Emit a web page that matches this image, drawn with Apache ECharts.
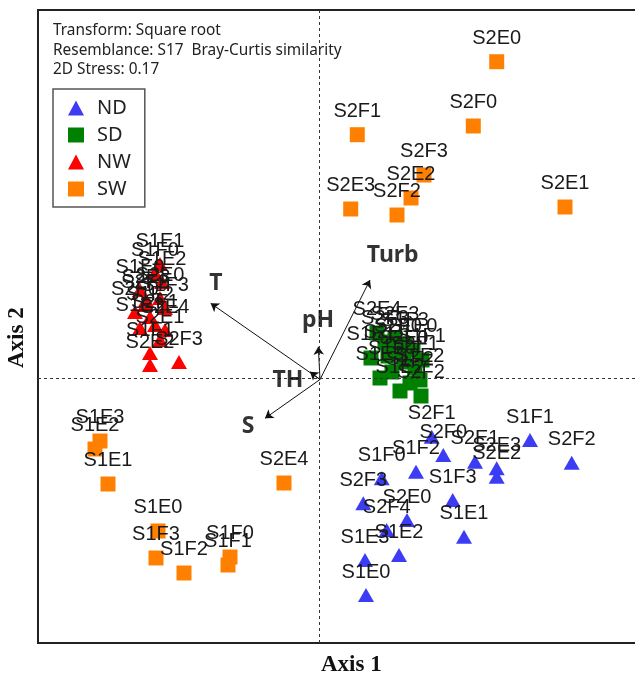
<!DOCTYPE html>
<html>
<head>
<meta charset="utf-8">
<script src="https://cdn.jsdelivr.net/npm/echarts@6/dist/echarts.min.js"></script>
<style>html,body{margin:0;padding:0;background:#fff}#c{width:635px;height:680px}</style>
</head>
<body>
<div id="c"></div>
<script>
// ---- data (NMDS coordinates, arbitrary units) ----
const groups = ['ND', 'SD', 'NW', 'SW'];

const ndNames = ['S2F1','S2F0','S2E1','S2E3','S2E2','S1F1','S2F2','S1F0','S1F2','S1F3','S2F3','S2E0','S2F4','S1E1','S1E2','S1E3','S1E0'];
const ndX = [1.127, 1.243, 1.56, 1.777, 1.777, 2.11, 2.527, 0.627, 0.97, 1.337, 0.443, 0.88, 0.677, 1.45, 0.80, 0.46, 0.47];
const ndY = [-0.582, -0.765, -0.832, -0.898, -0.982, -0.615, -0.842, -0.998, -0.932, -1.215, -1.248, -1.415, -1.515, -1.582, -1.765, -1.815, -2.165];

const sdNames = ['S2E4','S2E3','S1F3','S2F3','S1E0','S2F0','S1E1','S2E1','S1F1','S2E0','S1E3','S1F2','S2E2','S1E2','S2F2','S1F0','S2F1'];
const sdX = [0.58, 0.76, 0.86, 0.66, 0.94, 0.79, 0.52, 0.69, 1.03, 0.85, 0.61, 0.91, 1.01, 0.81, 1.02, 0.73, 0.96];
const sdY = [0.455, 0.405, 0.345, 0.365, 0.285, 0.285, 0.205, 0.225, 0.185, 0.165, 0.005, -0.045, -0.015, -0.125, -0.175, 0.065, 0.105];

const nwNames = ['S1E1','S1F0','S1E2','S1E0','S2E0','S2E3','S2F2','S1F3','S2F0','S1F2','S2F1','S1E3','S2E4','S2E1','S1F1','S2E2','S2F3'];
const nwX = [-1.59, -1.64, -1.57, -1.79, -1.59, -1.73, -1.74, -1.54, -1.84, -1.69, -1.64, -1.79, -1.54, -1.59, -1.69, -1.69, -1.40];
const nwY = [1.145, 1.055, 0.965, 0.885, 0.805, 0.785, 0.735, 0.705, 0.665, 0.615, 0.535, 0.505, 0.485, 0.385, 0.255, 0.135, 0.165];

const swNames = ['S2E0','S2F0','S2F1','S2F3','S2E2','S2F2','S2E3','S2E1','S1E3','S1E2','S1E1','S2E4','S1E0','S1F3','S1F2','S1F0','S1F1'];
const swX = [1.777, 1.543, 0.383, 1.05, 0.92, 0.78, 0.317, 2.46, -2.19, -2.24, -2.11, -0.35, -1.61, -1.63, -1.35, -0.89, -0.91];
const swY = [3.168, 2.525, 2.438, 2.035, 1.805, 1.635, 1.695, 1.715, -0.625, -0.705, -1.055, -1.045, -1.525, -1.795, -1.945, -1.785, -1.865];

// environmental vectors
const vecNames = ['T', 'S', 'TH', 'pH', 'Turb'];
const vecOrigin = [0.01, -0.01];
const vecX = [-1.083, -0.54, -0.09, -0.007, 0.51];
const vecY = [0.752, -0.398, 0.068, 0.318, 0.985];
const vecLabelX = [-1.03, -0.71, -0.31, -0.01, 0.737];
const vecLabelY = [0.955, -0.482, -0.015, 0.585, 1.235];

const infoLines = ['Transform: Square root', 'Resemblance: S17  Bray-Curtis similarity', '2D Stress: 0.17'];
const xTitle = 'Axis 1';
const yTitle = 'Axis 2';

// ---- chart ----
function pts(names, xs, ys) {
  return names.map((n, i) => ({ name: n, value: [xs[i], ys[i]] }));
}
const labelStyle = {
  show: true, position: 'top', distance: 6, formatter: '{b}',
  fontFamily: 'Liberation Sans, Arial, sans-serif', fontSize: 20, color: '#1a1a1a'
};
function grp(name, data, symbol, size, color) {
  return {
    name: name, type: 'scatter', data: data, symbol: symbol, symbolSize: size,
    itemStyle: { color: color, opacity: 1 }, label: labelStyle,
    emphasis: { disabled: true }, z: 3
  };
}

const chart = echarts.init(document.getElementById('c'), null, { renderer: 'canvas' });
chart.setOption({
  animation: false,
  backgroundColor: '#fff',
  grid: { left: 38, top: 10, right: 0, bottom: 37, show: false },
  xAxis: { type: 'value', min: -2.81, max: 3.16, axisLine: { show: false }, axisTick: { show: false }, axisLabel: { show: false }, splitLine: { show: false } },
  yAxis: { type: 'value', min: -2.645, max: 3.685, axisLine: { show: false }, axisTick: { show: false }, axisLabel: { show: false }, splitLine: { show: false } },
  title: {
    text: infoLines.join('\n'), left: 53, top: 21, padding: 0,
    textStyle: { fontFamily: 'Noto Sans, sans-serif', fontWeight: 'normal', fontSize: 15.4, lineHeight: 19.5, color: '#222' }
  },
  legend: {
    data: groups, orient: 'vertical', left: 53, top: 89,
    borderColor: '#555', borderWidth: 1.5, borderRadius: 0,
    padding: [9, 14, 8, 15], itemGap: 7, itemWidth: 16, itemHeight: 15,
    textStyle: { fontFamily: 'Noto Sans, sans-serif', fontSize: 20, color: '#222', padding: [0, 0, 0, 8], lineHeight: 20 },
    selectedMode: false
  },
  graphic: [
    { type: 'rect', silent: true, z: 0, shape: { x: 38, y: 10, width: 605, height: 633 }, style: { fill: 'none', stroke: '#222', lineWidth: 2 } },
    { type: 'text', left: 321, top: 654, style: { text: xTitle, font: 'bold 23px "Liberation Serif", serif', fill: '#111' } },
    { type: 'text', x: 6, y: 368, rotation: Math.PI / 2, style: { text: yTitle, font: 'bold 23px "Liberation Serif", serif', fill: '#111' } }
  ],
  series: [
    grp('ND', pts(ndNames, ndX, ndY), 'triangle', [16, 14], '#3c3cf5'),
    grp('SD', pts(sdNames, sdX, sdY), 'rect', 15, '#008000'),
    grp('NW', pts(nwNames, nwX, nwY), 'triangle', [16, 14], '#ff0000'),
    grp('SW', pts(swNames, swX, swY), 'rect', 15, '#ff8000'),
    {
      type: 'scatter', data: [], silent: true,
      markLine: {
        silent: true, symbol: 'none', label: { show: false },
        lineStyle: { color: '#333', width: 1, type: [3, 3] },
        data: [{ xAxis: 0 }, { yAxis: 0 }]
      }
    },
    {
      type: 'lines', coordinateSystem: 'cartesian2d', silent: true, z: 4,
      symbol: ['none', 'arrow'], symbolSize: 8,
      lineStyle: { color: '#111', width: 1, opacity: 1 },
      data: vecNames.map((n, i) => ({ coords: [vecOrigin, [vecX[i], vecY[i]]] }))
    },
    {
      type: 'scatter', silent: true, symbolSize: 0, z: 5,
      data: vecNames.map((n, i) => ({ name: n, value: [vecLabelX[i], vecLabelY[i]] })),
      label: { show: true, position: 'inside', formatter: '{b}', fontFamily: 'Noto Sans, sans-serif', fontWeight: 'bold', fontSize: 23, color: '#000' }
    }
  ]
});
</script>
</body>
</html>
